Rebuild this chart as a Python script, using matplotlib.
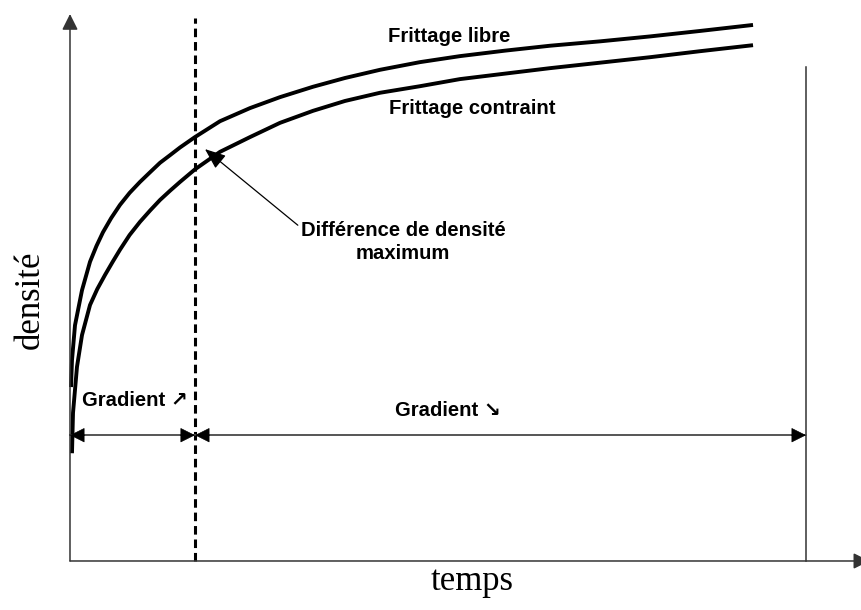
import matplotlib
matplotlib.use("Agg")
import matplotlib.pyplot as plt

# densification curves (temps, densité), arbitrary units
temps_libre = [0.14, 0.27, 0.68, 1.63, 2.72, 3.6, 4.48, 5.6, 6.79, 8.1, 9.51, 10.9,
               12.23, 13.6, 14.95, 16.98, 20.38, 24.46, 28.53, 33.02, 37.36, 42.12,
               47.55, 52.99, 59.10, 65.22, 72.01, 78.80, 85.60, 92.80]
densite_libre = [31.8, 36.7, 43.1, 49.5, 54.7, 57.6, 60.1, 62.7, 65.1, 67.3, 69.3, 71.1,
                 72.8, 74.2, 75.6, 77.5, 80.4, 82.8, 84.8, 86.7, 88.3, 89.8,
                 91.2, 92.3, 93.3, 94.2, 95.0, 95.9, 96.9, 98.0]

temps_contraint = [0.27, 0.41, 0.95, 1.63, 2.72, 3.7, 4.76, 5.8, 6.79, 8.1, 9.51, 10.9,
                   12.23, 13.6, 14.95, 16.98, 20.38, 24.46, 28.53, 33.02, 37.36, 42.12,
                   47.55, 52.99, 59.10, 65.22, 72.01, 78.80, 85.60, 92.80]
densite_contraint = [19.7, 27.1, 35.5, 41.3, 46.8, 49.7, 52.3, 54.7, 56.9, 59.6, 62.0, 64.1,
                     66.0, 67.7, 69.3, 71.6, 74.8, 77.5, 80.1, 82.3, 84.1, 85.6,
                     86.8, 88.1, 89.1, 90.1, 91.1, 92.1, 93.2, 94.3]

# time of the maximum density gap, and end of the process
t_max_ecart = 16.98
t_fin = 100.0

bold = dict(family=["Liberation Sans", "DejaVu Sans"], fontweight="bold", fontsize=14.6)
serif = dict(family=["Liberation Serif", "DejaVu Serif"], fontsize=25)

fig = plt.figure(figsize=(8.61, 6.10), dpi=100)
ax = fig.add_axes([0, 0, 1, 1])
ax.set_xlim(-9.51, 107.47)
ax.set_ylim(-8.96, 102.56)
ax.set_axis_off()

head = "-|>,head_length=0.6,head_width=0.3"

# axes with arrow heads
axis_col = "#333333"
ax.annotate("", xy=(0, 100), xytext=(0, 0), annotation_clip=False,
            arrowprops=dict(arrowstyle=head, color=axis_col, lw=1.1,
                            mutation_scale=16, shrinkA=0, shrinkB=0))
ax.annotate("", xy=(108.6, 0), xytext=(0, 0), annotation_clip=False,
            arrowprops=dict(arrowstyle=head, color=axis_col, lw=1.1,
                            mutation_scale=16, shrinkA=0, shrinkB=0))

# the two curves
ax.plot(temps_libre, densite_libre, color="black", lw=2.8,
        solid_capstyle="butt", solid_joinstyle="round")
ax.plot(temps_contraint, densite_contraint, color="black", lw=2.8,
        solid_capstyle="butt", solid_joinstyle="round")

# maximum gap marker and end of sintering
ax.plot([t_max_ecart, t_max_ecart], [0, 99.3], color="black", lw=2.2,
        dashes=(2.8, 1.6))
ax.plot([t_fin, t_fin], [0, 90.3], color=axis_col, lw=1.1)

# gradient spans: grey shaft, black heads at both ends
grad_y = 23.0
for a, b in [(0, t_max_ecart), (t_max_ecart, t_fin)]:
    ax.plot([a, b], [grad_y, grad_y], color="#555555", lw=1.4)
    for tip, tail in [(a, a + 2), (b, b - 2)]:
        ax.annotate("", xy=(tip, grad_y), xytext=(tail, grad_y),
                    arrowprops=dict(arrowstyle=head, color="black", lw=0.5,
                                    mutation_scale=16, shrinkA=0, shrinkB=0))

ax.text(8.76, 29.4, "Gradient \u2197", ha="center", va="center", **bold)
ax.text(51.4, 27.6, "Gradient \u2198", ha="center", va="center", **bold)

ax.text(51.5, 95.8, "Frittage libre", ha="center", va="center", **bold)
ax.text(54.6, 82.8, "Frittage contraint", ha="center", va="center", **bold)

ax.annotate("Différence de densité\nmaximum", xy=(18.34, 75.3), xytext=(45.24, 58.3),
            ha="center", va="center", linespacing=1.25, **bold,
            arrowprops=dict(arrowstyle="-|>,head_length=0.8,head_width=0.32",
                            color="black", lw=0.9, mutation_scale=16,
                            shrinkA=0, shrinkB=0, relpos=(0.0, 0.85)))

ax.text(-5.43, 47.7, "densité", rotation=90, ha="center", va="center", **serif)
ax.text(54.7, -3.8, "temps", ha="center", va="center", **serif)

fig.savefig("out.png", dpi=100)
